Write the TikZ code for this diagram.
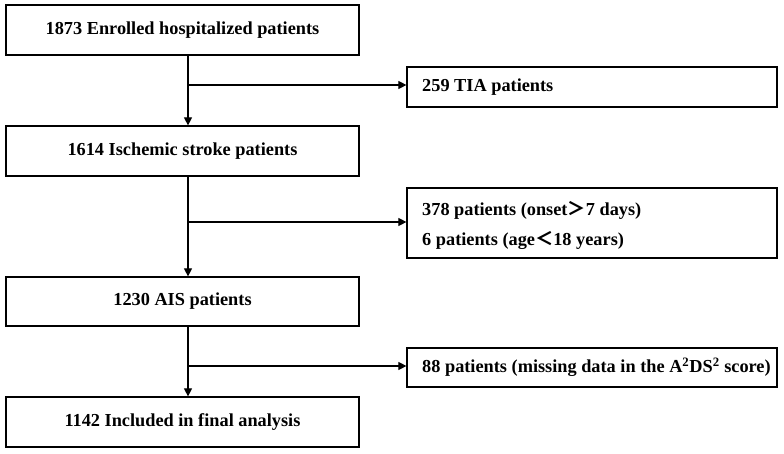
\documentclass[tikz,border=0pt]{standalone}
\usepackage{fontspec}
\setmainfont{Liberation Serif}
\newfontfamily\cjk{Noto Sans CJK SC}
\usetikzlibrary{arrows.meta}

\tikzset{
  mainbox/.style={draw,line width=1.2pt,minimum width=353pt,minimum height=50pt,inner sep=0pt},
  sidebox/.style={draw,line width=1.2pt,minimum width=370pt,inner sep=0pt},
  sidetext/.style={anchor=west,inner sep=0pt},
  arr/.style={line width=1.1pt,-{Triangle[length=8pt,width=8pt]}},
}

\begin{document}
\begin{tikzpicture}[x=1pt,y=-1pt,font=\fontsize{18.3}{22}\selectfont\bfseries]
        \useasboundingbox (0,0) rectangle (784,454);
        % main column
        \node[mainbox] (enrolled) at (182.5,30) {1873 Enrolled hospitalized patients};
        \node[mainbox] (ischemic) at (182.5,151) {1614 Ischemic stroke patients};
        \node[mainbox,minimum height=49pt] (ais) at (182.5,301.5) {1230 AIS patients};
        \node[mainbox] (final) at (182.5,422) {1142 Included in final analysis};
        % excluded
        \node[sidebox,minimum height=40pt] (tia) at (592,87) {};
        \node[sidetext] (tiatxt) at (422,87) {259 TIA patients};
        \node[sidebox,minimum height=70pt] (onset) at (592,223) {};
        \node[sidetext] (onsettxt) at (422,210) {378 patients (onset{\cjk ＞}7 days)};
        \node[sidetext] (agetxt) at (422,240) {6 patients (age{\cjk ＜}18 years)};
        \node[sidebox,minimum height=39pt] (missing) at (592,367.5) {};
        \node[sidetext] (missingtxt) at (422,367.5) {88 patients (missing data in the A\textsuperscript{2}DS\textsuperscript{2} score)};
        % arrows
        \coordinate (j1) at (188,85);
        \coordinate (j2) at (188,222);
        \coordinate (j3) at (188,366);
        \draw[arr] (enrolled.south -| j1) -- (ischemic.north -| j1);
        \draw[arr] (ischemic.south -| j2) -- (ais.north -| j2);
        \draw[arr] (ais.south -| j3) -- (final.north -| j3);
        \draw[arr] (j1) -- (j1 -| tia.west);
        \draw[arr] (j2) -- (j2 -| onset.west);
        \draw[arr] (j3) -- (j3 -| missing.west);
\end{tikzpicture}
\end{document}
